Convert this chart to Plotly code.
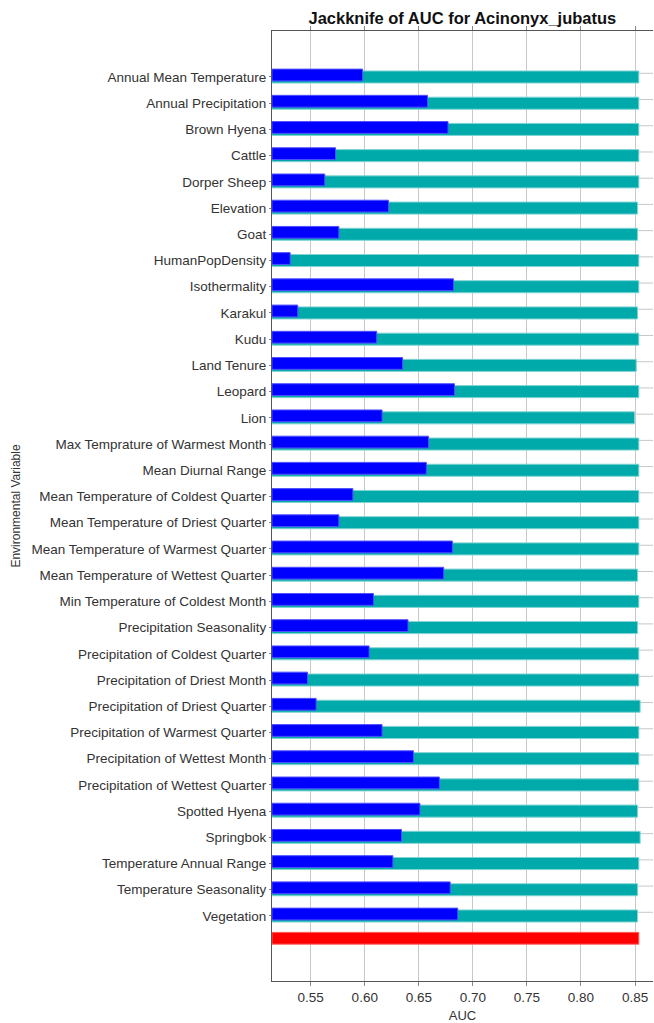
import numpy as np
import plotly.graph_objects as go

# -----------------------------
# DATA
# -----------------------------
variables = [
    "Annual Mean Temperature", "Annual Precipitation", "Brown Hyena", "Cattle",
    "Dorper Sheep", "Elevation", "Goat", "HumanPopDensity", "Isothermality",
    "Karakul", "Kudu", "Land Tenure", "Leopard", "Lion",
    "Max Temprature of Warmest Month", "Mean Diurnal Range",
    "Mean Temperature of Coldest Quarter", "Mean Temperature of Driest Quarter",
    "Mean Temperature of Warmest Quarter", "Mean Temperature of Wettest Quarter",
    "Min Temperature of Coldest Month", "Precipitation Seasonality",
    "Precipitation of Coldest Quarter", "Precipitation of Driest Month",
    "Precipitation of Driest Quarter", "Precipitation of Warmest Quarter",
    "Precipitation of Wettest Month", "Precipitation of Wettest Quarter",
    "Spotted Hyena", "Springbok", "Temperature Annual Range",
    "Temperature Seasonality", "Vegetation",
]

without_variable = [
    0.8535, 0.8535, 0.8535, 0.8535, 0.8535, 0.8523, 0.8523, 0.8535, 0.8535,
    0.8523, 0.8535, 0.8511, 0.8535, 0.8495, 0.8535, 0.8535, 0.8535, 0.8535,
    0.8535, 0.8523, 0.8535, 0.8523, 0.8535, 0.8535, 0.8547, 0.8535, 0.8535,
    0.8535, 0.8523, 0.8547, 0.8535, 0.8523, 0.8523,
]

with_only_variable = [
    0.598, 0.658, 0.677, 0.573, 0.563, 0.622, 0.576, 0.531, 0.682,
    0.538, 0.611, 0.635, 0.683, 0.616, 0.659, 0.657, 0.589, 0.576,
    0.681, 0.673, 0.608, 0.640, 0.604, 0.547, 0.555, 0.616, 0.645,
    0.669, 0.651, 0.634, 0.626, 0.679, 0.686,
]

with_all_variables = 0.8535

# -----------------------------
# CHART
# -----------------------------
idx = np.arange(len(variables))
base = 0.5142

fig = go.Figure()

fig.add_trace(go.Bar(
    y=idx, x=np.array(without_variable) - base, base=base,
    orientation="h", width=0.46, name="Without variable",
    marker=dict(color="#00AAAA", line=dict(color="#80D4D4", width=1)),
))

fig.add_trace(go.Bar(
    y=idx - 0.075, x=np.array(with_only_variable) - base, base=base,
    orientation="h", width=0.45, name="With only variable",
    marker=dict(color="#0000FF", line=dict(color="#5050FF", width=1)),
))

fig.add_trace(go.Bar(
    y=[len(variables) - 0.15], x=[with_all_variables - base], base=base,
    orientation="h", width=0.45, name="With all variables",
    marker=dict(color="#FF0000", line=dict(color="#FF6060", width=1)),
))

# horizontal category gridlines (sit slightly above bar centres)
for i in idx:
    fig.add_shape(type="line", xref="paper", x0=0, x1=1, yref="y",
                  y0=i - 0.14, y1=i - 0.14, layer="below",
                  line=dict(color="#C8C8C8", width=1))

fig.update_layout(
    width=654, height=1023,
    margin=dict(l=272, r=1, t=31, b=42),
    barmode="overlay",
    showlegend=False,
    plot_bgcolor="white",
    paper_bgcolor="white",
    font=dict(family="Liberation Sans, Arial, sans-serif", size=13.5, color="#333333"),
    title=dict(text="<b>Jackknife of AUC for Acinonyx_jubatus</b>",
               x=0.707, xanchor="center", y=0.9825, yanchor="middle",
               font=dict(size=16.5, color="#111111")),
)

fig.update_xaxes(
    range=[base, 0.8666],
    tickvals=[0.55, 0.60, 0.65, 0.70, 0.75, 0.80, 0.85],
    ticktext=["0.55", "0.60", "0.65", "0.70", "0.75", "0.80", "0.85"],
    showgrid=True, gridcolor="#C8C8C8", gridwidth=1,
    showline=True, linecolor="#555555", linewidth=1, mirror="ticks",
    ticks="outside", ticklen=4, tickcolor="#888888",
    title=dict(text="AUC", standoff=6, font=dict(size=13)),
    zeroline=False,
)

fig.update_yaxes(
    range=[34.48, -1.754],
    tickvals=idx, ticktext=variables,
    showgrid=False,
    showline=True, linecolor="#555555", linewidth=1,
    ticks="outside", ticklen=2, tickcolor="#888888",
    title=dict(text="Environmental Variable", standoff=8, font=dict(size=12)),
    zeroline=False,
)

fig.write_html("out.html", config={"displayModeBar": False},
               post_script="document.body.style.margin='0';")
